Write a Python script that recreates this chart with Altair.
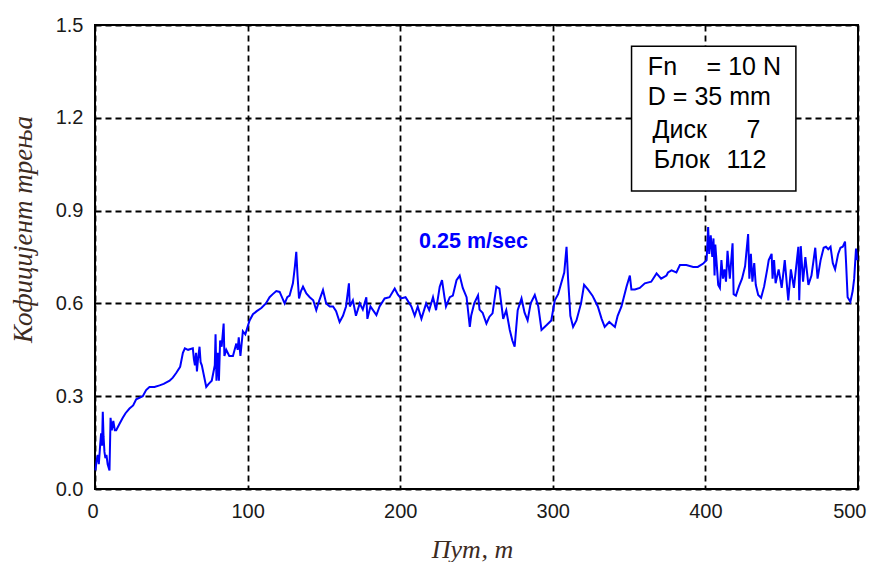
import altair as alt
import pandas as pd

# ---- data ----
path_m = [0.3, 1.0, 1.8, 2.5, 3.5, 4.0, 4.6, 5.1, 5.6, 6.2, 6.8, 7.5, 8.3, 9.5, 10.2, 11.0, 12.0, 13.0, 13.9,
          16.0, 18.2, 20.0, 22.6, 25.0, 27.0, 31.3, 33.5, 35.7, 39.0, 42.3, 45.0, 48.9, 51.0, 53.2, 55.8, 57.6,
          58.9, 61.0, 64.1, 64.8, 65.5, 66.2, 66.8, 67.5, 68.5, 69.2, 70.0, 72.9, 74.5, 76.5, 78.5, 79.0, 79.6,
          80.5, 81.2, 82.0, 83.0, 84.3, 84.8, 86.0, 88.0, 90.4, 92.6, 93.5, 94.2, 95.3, 96.9, 98.5, 101.3, 103.5,
          106.0, 109.0, 112.0, 114.4, 116.5, 118.8, 121.0, 122.5, 124.3, 126.0, 127.5, 129.7, 131.0, 131.9,
          132.7, 133.7, 135.0, 136.3, 138.5, 140.7, 143.0, 145.0, 147.0, 149.4, 151.5, 153.8, 156.0, 158.0,
          160.3, 162.5, 164.5, 166.4, 167.0, 169.0, 171.0, 173.5, 175.5, 177.8, 178.5, 180.5, 184.4, 186.5,
          189.8, 193.0, 196.4, 198.5, 200.5, 203.5, 207.3, 209.5, 211.5, 213.9, 217.0, 219.0, 221.5, 223.5,
          225.9, 227.4, 229.0, 230.0, 232.5, 234.5, 236.9, 239.0, 241.0, 243.5, 245.6, 246.5, 248.5, 251.0,
          252.0, 254.0, 256.5, 258.5, 260.5, 263.0, 265.0, 267.5, 269.5, 271.8, 273.5, 275.0, 276.0, 277.0,
          279.5, 281.5, 283.5, 285.5, 288.2, 290.5, 292.6, 296.0, 299.0, 301.3, 303.5, 305.5, 307.5, 309.0,
          310.0, 311.5, 313.3, 315.5, 318.5, 320.5, 323.0, 326.0, 327.5, 329.5, 332.0, 334.0, 337.0, 340.7,
          342.5, 345.0, 348.3, 350.5, 351.5, 353.8, 357.0, 360.3, 364.5, 368.0, 371.0, 374.5, 375.5, 377.8,
          381.0, 383.3, 387.5, 392.0, 395.0, 398.6, 400.8, 401.8, 402.5, 403.5, 404.5, 405.3, 406.0, 406.5,
          408.4, 409.5, 410.5, 411.5, 412.5, 413.5, 414.5, 416.0, 417.8, 418.5, 420.0, 422.0, 424.0, 426.0,
          428.0, 428.8, 429.8, 430.8, 432.0, 433.0, 434.6, 436.5, 438.5, 440.5, 441.5, 443.4, 444.0, 445.0,
          446.0, 448.0, 450.0, 452.0, 454.3, 456.0, 458.0, 460.9, 461.5, 462.5, 464.0, 465.5, 467.5, 469.5,
          472.0, 473.5, 475.5, 477.5, 479.0, 480.5, 482.0, 483.5, 485.0, 487.0, 488.5, 490.0, 491.5, 492.2,
          493.2, 495.0, 496.5, 497.5, 498.7, 499.5]
friction = [0.06, 0.09, 0.11, 0.08, 0.15, 0.18, 0.14, 0.25, 0.17, 0.12, 0.10, 0.11, 0.08, 0.06, 0.23, 0.19, 0.22,
            0.19, 0.19, 0.21, 0.23, 0.245, 0.26, 0.27, 0.29, 0.30, 0.32, 0.33, 0.33, 0.335, 0.34, 0.35, 0.36,
            0.375, 0.395, 0.44, 0.455, 0.45, 0.455, 0.42, 0.40, 0.44, 0.38, 0.42, 0.46, 0.41, 0.40, 0.33, 0.34,
            0.35, 0.40, 0.50, 0.35, 0.44, 0.35, 0.48, 0.46, 0.535, 0.43, 0.45, 0.43, 0.43, 0.47, 0.45, 0.49,
            0.43, 0.51, 0.50, 0.545, 0.565, 0.575, 0.585, 0.60, 0.62, 0.63, 0.64, 0.637, 0.62, 0.60, 0.62,
            0.625, 0.665, 0.72, 0.767, 0.69, 0.616, 0.64, 0.654, 0.632, 0.62, 0.61, 0.578, 0.61, 0.643, 0.60,
            0.59, 0.59, 0.575, 0.54, 0.56, 0.59, 0.665, 0.59, 0.61, 0.56, 0.60, 0.58, 0.62, 0.55, 0.59, 0.562,
            0.59, 0.616, 0.62, 0.648, 0.628, 0.616, 0.62, 0.59, 0.56, 0.59, 0.55, 0.60, 0.578, 0.62, 0.578,
            0.654, 0.675, 0.62, 0.59, 0.62, 0.625, 0.675, 0.69, 0.65, 0.62, 0.524, 0.56, 0.60, 0.626, 0.58,
            0.57, 0.535, 0.557, 0.568, 0.654, 0.648, 0.55, 0.578, 0.514, 0.48, 0.46, 0.52, 0.578, 0.616, 0.57,
            0.545, 0.60, 0.627, 0.59, 0.514, 0.53, 0.545, 0.61, 0.63, 0.665, 0.70, 0.783, 0.68, 0.56, 0.524,
            0.545, 0.60, 0.66, 0.645, 0.625, 0.61, 0.59, 0.55, 0.524, 0.54, 0.524, 0.56, 0.59, 0.654, 0.69,
            0.645, 0.645, 0.65, 0.665, 0.67, 0.697, 0.68, 0.69, 0.70, 0.707, 0.70, 0.724, 0.724, 0.718, 0.718,
            0.729, 0.74, 0.847, 0.76, 0.82, 0.75, 0.81, 0.69, 0.79, 0.66, 0.65, 0.74, 0.68, 0.71, 0.67, 0.77,
            0.68, 0.794, 0.63, 0.625, 0.655, 0.68, 0.72, 0.824, 0.68, 0.76, 0.67, 0.73, 0.66, 0.627, 0.618,
            0.655, 0.71, 0.74, 0.76, 0.68, 0.74, 0.665, 0.71, 0.65, 0.74, 0.61, 0.71, 0.65, 0.783, 0.61, 0.785,
            0.67, 0.75, 0.66, 0.69, 0.78, 0.68, 0.74, 0.78, 0.783, 0.775, 0.783, 0.73, 0.71, 0.76, 0.78, 0.783,
            0.80, 0.73, 0.62, 0.605, 0.64, 0.68, 0.777, 0.74]

x_ticks = [0, 100, 200, 300, 400, 500]
y_ticks = [0.0, 0.3, 0.6, 0.9, 1.2, 1.5]

speed_label = ["0.25 m/sec"]
speed_pos = [248, 0.80]

box_corners = [351.6, 459.3, 1.431, 0.963]  # x, x2, y, y2 in data units
box_texts = ["Fn", "= 10 N", "D = 35 mm", "Диск", "7", "Блок", "112"]
box_text_x = [362.3, 400.8, 362.3, 365.4, 427.0, 366.2, 413.9]
box_text_y = [1.338, 1.338, 1.241, 1.134, 1.134, 1.037, 1.037]

BLUE = "#0000ff"
TITLE_COLOR = "#3d2b1f"

df = pd.DataFrame({"path": path_m, "mu": friction})

xscale = alt.Scale(domain=[0, 500], nice=False, zero=False)
yscale = alt.Scale(domain=[0, 1.5], nice=False, zero=False)

x_axis = alt.Axis(values=x_ticks, format="d", title="Пут, m", grid=True, ticks=False, domain=False,
                  labelFont="Liberation Sans", labelFontSize=20, labelColor="#1a1a1a", labelPadding=12,
                  labelFlush=True, labelFlushOffset=8,
                  titleFont="Liberation Serif", titleFontStyle="italic", titleFontWeight="normal",
                  titleFontSize=26, titleColor=TITLE_COLOR, titlePadding=15, titleX=377,
                  gridColor="#000000", gridDash=[6, 4], gridWidth=1.8, gridOpacity=1)
y_axis = alt.Axis(values=y_ticks, format=".1f", title="Кофицијент трења", grid=True, ticks=False, domain=False,
                  labelFont="Liberation Sans", labelFontSize=20, labelColor="#1a1a1a", labelPadding=12,
                  labelFlush=False,
                  titleFont="Liberation Serif", titleFontStyle="italic", titleFontWeight="normal",
                  titleFontSize=27, titleColor=TITLE_COLOR, titlePadding=18, titleY=204,
                  gridColor="#000000", gridDash=[6, 4], gridWidth=1.8, gridOpacity=1)

line = alt.Chart(df).mark_line(color=BLUE, strokeWidth=2, interpolate="linear").encode(
    x=alt.X("path:Q", scale=xscale, axis=x_axis),
    y=alt.Y("mu:Q", scale=yscale, axis=y_axis),
    order="path:Q",
)

speed_df = pd.DataFrame({"x": [speed_pos[0]], "y": [speed_pos[1]], "t": speed_label})
speed = alt.Chart(speed_df).mark_text(font="Liberation Sans", fontSize=21.5, fontWeight="bold",
                                      color=BLUE, baseline="middle", align="center").encode(
    x=alt.X("x:Q", scale=xscale), y=alt.Y("y:Q", scale=yscale), text="t:N")

box_df = pd.DataFrame({"x": [box_corners[0]], "x2": [box_corners[1]],
                       "y": [box_corners[2]], "y2": [box_corners[3]]})
box = alt.Chart(box_df).mark_rect(fill="white", stroke="black", strokeWidth=1.5).encode(
    x=alt.X("x:Q", scale=xscale), x2="x2:Q", y=alt.Y("y:Q", scale=yscale), y2="y2:Q")

bt_df = pd.DataFrame({"x": box_text_x, "y": box_text_y, "t": box_texts})
box_text = alt.Chart(bt_df).mark_text(font="Liberation Sans", fontSize=25, color="black",
                                      align="left", baseline="alphabetic").encode(
    x=alt.X("x:Q", scale=xscale), y=alt.Y("y:Q", scale=yscale), text="t:N")

chart = alt.layer(line, speed, box, box_text).properties(
    width=763, height=464,
    autosize=alt.AutoSizeParams(type="none"),
    padding={"left": 87, "top": 17, "right": 10, "bottom": 73},
    background="white",
).configure_view(stroke="black", strokeWidth=2)

chart.save("out.html", embed_options={"renderer": "svg", "actions": False})
